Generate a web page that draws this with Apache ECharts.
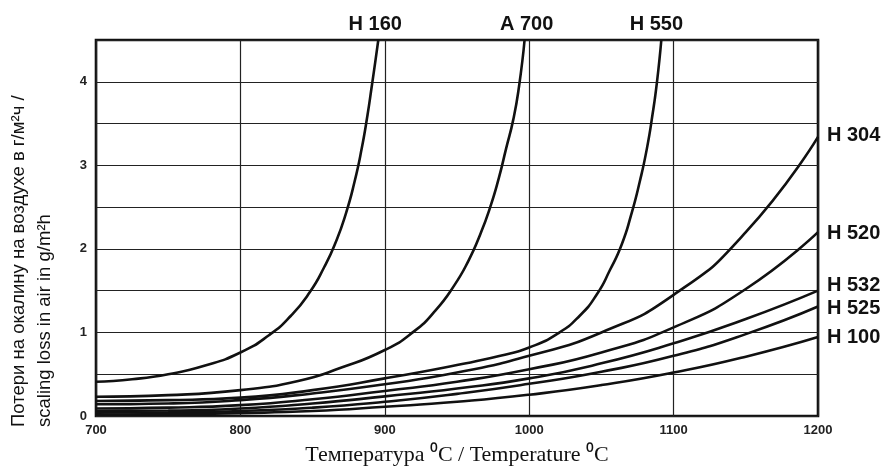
<!DOCTYPE html>
<html>
<head>
<meta charset="utf-8">
<script src="https://cdn.jsdelivr.net/npm/echarts@6/dist/echarts.min.js"></script>
<style>
html,body{margin:0;padding:0;background:#fff;}
#c{width:885px;height:471px;}
</style>
</head>
<body>
<div id="c"></div>
<script>
// Temperature ticks (°C) and scaling-loss values (g/m²h)
const xTicks = [700, 800, 900, 1000, 1100, 1200];
const yTickLabels = ['0', '1', '2', '3', '4'];

const H160 = [[700,0.41],[725,0.44],[750,0.50],[775,0.60],[800,0.76],[820,0.97],[835,1.20],[848,1.48],[858,1.78],[866,2.08],[873,2.42],[879,2.80],[884,3.20],[888,3.60],[891,3.95],[893.5,4.25],[895.5,4.5]];
const A700 = [[700,0.23],[750,0.25],[800,0.31],[840,0.42],[870,0.58],[900,0.79],[920,1.01],[935,1.26],[948,1.56],[958,1.86],[966,2.17],[973,2.5],[979,2.85],[984,3.2],[989,3.55],[993,3.95],[996.8,4.5]];
const H550 = [[700,0.18],[750,0.19],[800,0.22],[850,0.31],[900,0.45],[950,0.61],[980,0.72],[1000,0.82],[1020,0.99],[1035,1.20],[1047,1.46],[1056,1.75],[1064,2.05],[1070.5,2.4],[1076.5,2.8],[1081.5,3.2],[1085.5,3.62],[1088.5,4.0],[1091.5,4.5]];
const H304 = [[700,0.14],[750,0.15],[800,0.19],[850,0.27],[900,0.38],[950,0.52],[1000,0.72],[1050,1.0],[1100,1.45],[1150,2.2],[1200,3.34]];
const H520 = [[700,0.09],[750,0.10],[800,0.13],[850,0.2],[900,0.3],[950,0.41],[1000,0.56],[1050,0.76],[1100,1.06],[1150,1.52],[1200,2.2]];
const H532 = [[700,0.06],[750,0.065],[800,0.09],[850,0.15],[900,0.235],[950,0.33],[1000,0.45],[1050,0.63],[1100,0.87],[1150,1.16],[1200,1.5]];
const H525 = [[700,0.04],[750,0.045],[800,0.06],[850,0.1],[900,0.17],[950,0.265],[1000,0.385],[1050,0.53],[1100,0.72],[1150,0.98],[1200,1.31]];
const H100 = [[700,0.015],[750,0.022],[800,0.035],[850,0.06],[900,0.11],[950,0.17],[1000,0.255],[1050,0.37],[1100,0.52],[1150,0.71],[1200,0.945]];

const seriesNames = ['H 160','A 700','H 550','H 304','H 520','H 532','H 525','H 100'];
const seriesData = [H160, A700, H550, H304, H520, H532, H525, H100];
const topLabelOffsets = {'H 160':[-3,-16],'A 700':[2,-16],'H 550':[-5,-16]};
const rightLabelOffsets = {'H 304':[4,-1],'H 520':[4,1],'H 532':[4,-5],'H 525':[4,2],'H 100':[4,0]};

const labelFont = 'Liberation Sans, Arial, Helvetica, sans-serif';

const series = seriesNames.map((name, i) => {
  const top = topLabelOffsets[name];
  const endLabel = top ? {
    show: true, formatter: name, color: '#111', fontSize: 20, fontWeight: 'bold',
    fontFamily: labelFont, align: 'center', verticalAlign: 'middle', distance: 0, offset: top
  } : {
    show: true, formatter: name, color: '#111', fontSize: 20, fontWeight: 'bold',
    fontFamily: labelFont, distance: 5, offset: rightLabelOffsets[name]
  };
  return {
    name, type: 'line', data: seriesData[i], smooth: 0.55,
    symbol: 'none', silent: true, clip: true,
    lineStyle: {color: '#111', width: 2.6},
    endLabel, labelLayout: {hideOverlap: false}
  };
});

const chart = echarts.init(document.getElementById('c'), null, {renderer: 'canvas'});
chart.setOption({
  animation: false,
  backgroundColor: '#fff',
  grid: {left: 96, top: 40, right: 67, bottom: 50, show: true, borderColor: '#111', borderWidth: 2.6, containLabel: false},
  xAxis: {
    type: 'value', min: 700, max: 1200, interval: 100,
    name: 'Температура ⁰C / Temperature ⁰C', nameLocation: 'middle', nameGap: 28,
    nameTextStyle: {fontFamily: 'Liberation Serif, Times New Roman, serif', fontSize: 22, color: '#111'},
    axisLine: {show: false}, axisTick: {show: false},
    axisLabel: {color: '#222', fontSize: 13, fontWeight: 'bold', fontFamily: labelFont, margin: 8,
      formatter: v => xTicks.includes(v) ? String(v) : ''},
    splitLine: {show: true, lineStyle: {color: '#222', width: 1.2}}
  },
  yAxis: {
    type: 'value', min: 0, max: 4.5, interval: 0.5,
    axisLine: {show: false}, axisTick: {show: false},
    axisLabel: {color: '#222', fontSize: 13, fontWeight: 'bold', fontFamily: labelFont, margin: 9,
      formatter: v => Number.isInteger(v) && yTickLabels.includes(String(v)) ? String(v) : ''},
    splitLine: {show: true, lineStyle: {color: '#222', width: 1.2}}
  },
  graphic: [
    {type: 'text', x: 19, y: 427, rotation: Math.PI / 2, silent: true,
     style: {text: 'Потери на окалину на воздухе в г/м²ч /', fontSize: 18.5, fontFamily: labelFont,
       fill: '#111', align: 'left', verticalAlign: 'middle'}},
    {type: 'text', x: 45, y: 427, rotation: Math.PI / 2, silent: true,
     style: {text: 'scaling loss in air in g/m²h', fontSize: 18.5, fontFamily: labelFont,
       fill: '#111', align: 'left', verticalAlign: 'middle'}}
  ],
  series
});
</script>
</body>
</html>
